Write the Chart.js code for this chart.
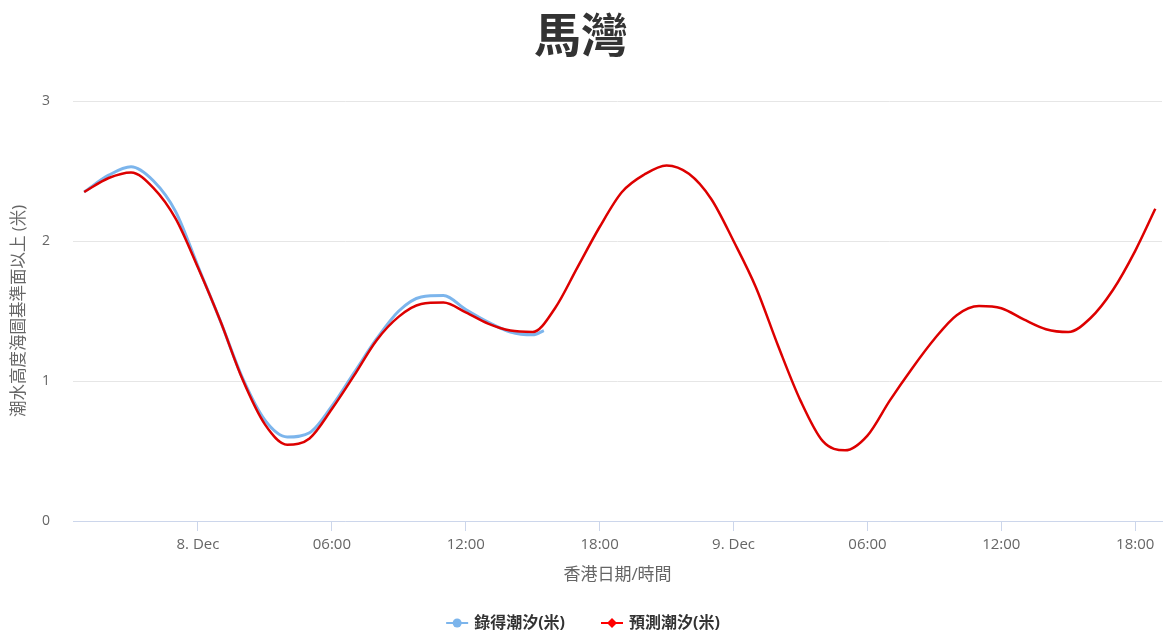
<!DOCTYPE html>
<html>
<head>
<meta charset="utf-8">
<script src="https://cdn.jsdelivr.net/npm/chart.js@4.4.1/dist/chart.umd.min.js"></script>
<style>
  html, body { margin: 0; padding: 0; background: #ffffff; }
  #wrap { width: 1167px; height: 636px; position: relative; }
</style>
</head>
<body>
<div id="wrap"><canvas id="c"></canvas></div>
<script>
// Hours relative to 8 Dec 00:00 (Hong Kong time)
const predTimes = [-5.1, -4, -3, -2, -1, 0, 1, 2, 3, 4, 5, 6, 7, 8, 9, 10, 11, 12, 13, 14, 15, 16, 17, 18, 19, 20, 21, 22, 23, 24, 25, 26, 27, 28, 29, 30, 31, 32, 33, 34, 35, 36, 37, 38, 39, 40, 41, 42, 42.9];
const predValues = [2.35, 2.45, 2.49, 2.38, 2.16, 1.81, 1.43, 1.01, 0.69, 0.545, 0.59, 0.80, 1.04, 1.29, 1.46, 1.55, 1.56, 1.49, 1.41, 1.36, 1.35, 1.52, 1.81, 2.10, 2.35, 2.475, 2.54, 2.48, 2.30, 2.00, 1.67, 1.25, 0.86, 0.57, 0.505, 0.61, 0.86, 1.09, 1.30, 1.47, 1.535, 1.52, 1.44, 1.37, 1.35, 1.45, 1.65, 1.93, 2.23];
const obsTimes = [-5.1, -4, -3, -2, -1, 0, 1, 2, 3, 4, 5, 6, 7, 8, 9, 10, 11, 12, 13, 14, 15, 15.5];
const obsValues = [2.35, 2.47, 2.53, 2.43, 2.21, 1.82, 1.43, 1.02, 0.72, 0.60, 0.63, 0.82, 1.06, 1.30, 1.50, 1.60, 1.61, 1.51, 1.42, 1.35, 1.33, 1.36];
const xTickHours = [0, 6, 12, 18, 24, 30, 36, 42];
const xTickLabels = ['8. Dec', '06:00', '12:00', '18:00', '9. Dec', '06:00', '12:00', '18:00'];
const yTicks = [0, 1, 2, 3];

const titleText = '馬灣';
const xTitle = '香港日期/時間';
const yTitle = '潮水高度海圖基準面以上 (米)';
const obsName = '錄得潮汐(米)';
const predName = '預測潮汐(米)';

const CJK = '"Noto Sans CJK TC", "Noto Sans", sans-serif';
const LAT = '"Open Sans", "Noto Sans CJK TC", sans-serif';

const obsColor = '#7cb5ec';
const predColor = '#dd0000';

// Custom bottom legend: line + marker, bold text
const bottomLegend = {
  id: 'bottomLegend',
  afterDraw(chart) {
    const ctx = chart.ctx;
    const items = [
      { text: chart.data.datasets[0].label, color: obsColor, shape: 'circle' },
      { text: chart.data.datasets[1].label, color: '#ff0000', shape: 'diamond' }
    ];
    const symW = 22, gap = 6, itemGap = 36;
    ctx.save();
    ctx.font = 'bold 16px ' + '"Open Sans", "Noto Sans CJK TC", sans-serif';
    const widths = items.map(it => symW + gap + ctx.measureText(it.text).width);
    const total = widths.reduce((a, b) => a + b, 0) + itemGap * (items.length - 1);
    let x = 583 - total / 2;
    const y = 623;
    items.forEach((it, i) => {
      ctx.strokeStyle = it.color; ctx.fillStyle = it.color; ctx.lineWidth = 2;
      ctx.beginPath(); ctx.moveTo(x, y); ctx.lineTo(x + symW, y); ctx.stroke();
      const cx = x + symW / 2;
      ctx.beginPath();
      if (it.shape === 'circle') ctx.arc(cx, y, 4.5, 0, Math.PI * 2);
      else { ctx.moveTo(cx, y - 5); ctx.lineTo(cx + 5, y); ctx.lineTo(cx, y + 5); ctx.lineTo(cx - 5, y); ctx.closePath(); }
      ctx.fill();
      ctx.fillStyle = '#333333';
      ctx.textBaseline = 'middle';
      ctx.textAlign = 'left';
      ctx.fillText(it.text, x + symW + gap, y);
      x += widths[i] + itemGap;
    });
    ctx.restore();
  }
};

const chart = new Chart(document.getElementById('c'), {
  type: 'line',
  data: {
    datasets: [
      {
        label: obsName,
        data: obsTimes.map((t, i) => ({ x: t, y: obsValues[i] })),
        borderColor: obsColor,
        backgroundColor: obsColor,
        borderWidth: 3,
        pointRadius: 0,
        cubicInterpolationMode: 'monotone',
        order: 1
      },
      {
        label: predName,
        data: predTimes.map((t, i) => ({ x: t, y: predValues[i] })),
        borderColor: predColor,
        backgroundColor: predColor,
        borderWidth: 2.5,
        pointRadius: 0,
        cubicInterpolationMode: 'monotone',
        order: 0
      }
    ]
  },
  plugins: [bottomLegend],
  options: {
    responsive: true,
    maintainAspectRatio: false,
    animation: false,
    layout: { padding: { left: 0, right: 5, top: 0, bottom: 35 } },
    plugins: {
      title: {
        display: true,
        text: titleText,
        color: '#333333',
        font: { family: CJK, size: 47, weight: 'bold' },
        padding: { top: 6, bottom: 38.6 }
      },
      legend: { display: false },
      tooltip: { enabled: false }
    },
    scales: {
      x: {
        type: 'linear',
        min: -5.6,
        max: 43.2,
        afterBuildTicks: (s) => { s.ticks = xTickHours.map(v => ({ value: v })); },
        afterFit: (s) => { s.height = 80; },
        ticks: {
          color: '#666666',
          font: { family: LAT, size: 15 },
          padding: 5,
          maxRotation: 0,
          autoSkip: false,
          callback: (v) => { const i = xTickHours.indexOf(v); return i >= 0 ? xTickLabels[i] : ''; }
        },
        grid: { drawOnChartArea: false, drawTicks: true, tickLength: 10, color: '#ccd6eb' },
        border: { display: true, color: '#ccd6eb', width: 1 },
        title: {
          display: true,
          text: xTitle,
          color: '#666666',
          font: { family: LAT, size: 17 },
          padding: { top: 0, bottom: 16 }
        }
      },
      y: {
        min: 0,
        max: 3,
        afterBuildTicks: (s) => { s.ticks = yTicks.map(v => ({ value: v })); },
        afterFit: (s) => { s.width = 73; },
        ticks: {
          color: '#666666',
          font: { family: LAT, size: 14 },
          padding: 23
        },
        grid: { color: '#e6e6e6', drawTicks: false, lineWidth: 1 },
        border: { display: false },
        title: {
          display: true,
          text: yTitle,
          color: '#666666',
          font: { family: LAT, size: 16.5 },
          padding: { top: 9, bottom: 0 }
        }
      }
    }
  }
});
</script>
</body>
</html>
